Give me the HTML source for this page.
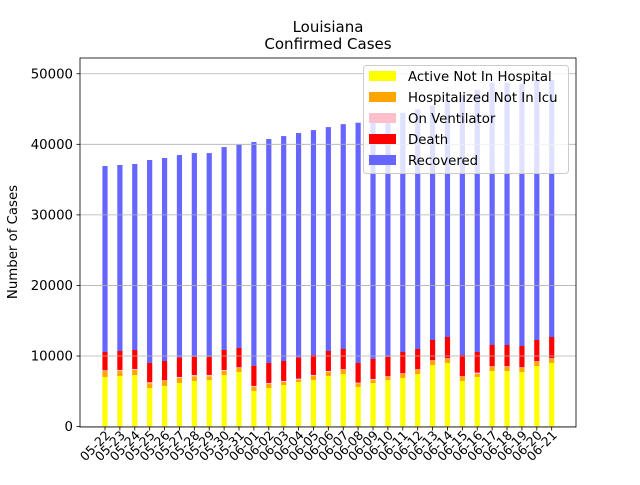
<!DOCTYPE html>
<html><head><meta charset="utf-8"><style>
body{margin:0;background:#fff;width:640px;height:480px;overflow:hidden;font-family:"Liberation Sans","DejaVu Sans",sans-serif}
svg text{font-family:"DejaVu Sans","Liberation Sans",sans-serif;fill:#000}
</style></head><body>
<svg id="chart" width="640" height="480"></svg>
<script>
const categories=["05-22","05-23","05-24","05-25","05-26","05-27","05-28","05-29","05-30","05-31","06-01","06-02","06-03","06-04","06-05","06-06","06-07","06-08","06-09","06-10","06-11","06-12","06-13","06-14","06-15","06-16","06-17","06-18","06-19","06-20","06-21"];
const activeNotInHospital=[7033,7174,7316,5475,5758,6183,6466,6608,7316,7741,5050,5475,5900,6325,6608,7174,7458,5617,6183,6608,6891,7458,8732,9015,6466,7033,7882,7882,7741,8590,9015];
const hospitalizedNotInIcu=[850,708,708,661,708,708,661,519,566,566,566,566,425,283,566,566,566,519,425,425,566,566,566,566,566,425,566,566,566,566,566];
const onVentilator=[94,142,142,142,94,142,189,189,142,94,142,142,142,189,142,142,94,94,142,94,94,94,94,94,94,189,94,94,94,94,94];
const death=[2596,2690,2690,2738,2738,2785,2596,2596,2832,2738,2879,2832,2832,3021,2832,2832,2879,2785,2832,2785,3021,2879,2879,3021,3021,2926,3021,3021,3021,3021,3021];
const recovered=[26357,26356,26354,28765,28762,28662,28848,28848,28754,28801,31692,31735,31872,31782,31872,31726,31862,34045,33618,33988,33897,33962,33228,33603,36852,37127,37166,37166,37128,36838,36413];
const yTicks=[0,10000,20000,30000,40000,50000];
const seriesNames=["Active Not In Hospital","Hospitalized Not In Icu","On Ventilator","Death","Recovered"];
const seriesColors=["#ffff00","#ffa500","#ffc0cb","#ff0000","#6666ff"];

const svg=document.getElementById('chart');
const NS='http://www.w3.org/2000/svg';
const L=80,R=576,T=58,B=427;
function yScale(v){return 426.6-v*70.57/10000;}
function xScale(i){return 105+i*14.89;}
function mk(tag,attrs,parent){const e=document.createElementNS(NS,tag);for(const k in attrs)e.setAttribute(k,attrs[k]);(parent||svg).appendChild(e);return e;}

const series=[activeNotInHospital,hospitalizedNotInIcu,onVentilator,death,recovered];
const bw=5.2;
categories.forEach((c,i)=>{
  let cum=0;
  series.forEach((s,k)=>{
    const v=s[i];
    const r=mk('rect',{x:xScale(i)-bw/2,y:yScale(cum+v),width:bw,height:yScale(cum)-yScale(cum+v),fill:seriesColors[k]});
    
    
    cum+=v;
  });
});
yTicks.forEach(t=>{
  const y=yScale(t);
  const g=mk('line',{x1:L,x2:R,y1:y,y2:y,stroke:'#b0b0b0','stroke-width':0.8});
  
  
  mk('line',{x1:L-3.5,x2:L,y1:y,y2:y,stroke:'#000','stroke-width':0.8});
  const tx=mk('text',{x:L-7,y:y+4.5,'text-anchor':'end','font-size':'13.3'});
  tx.textContent=t;
  
  
});
categories.forEach((c,i)=>{
  const x=xScale(i);
  mk('line',{x1:x,x2:x,y1:B,y2:B+3.5,stroke:'#000','stroke-width':0.8});
  const tx=mk('text',{x:0,y:0,'text-anchor':'end','font-size':'12.5',transform:`translate(${x+6},${B+9}) rotate(-45)`});
  tx.textContent=c;
  
  
});
const frame=mk('rect',{x:L,y:T,width:R-L,height:B-T,fill:'none',stroke:'#000','stroke-width':0.8});


const t1=mk('text',{x:328,y:32,'text-anchor':'middle','font-size':'15'});t1.textContent='Louisiana';


const t2=mk('text',{x:328,y:49,'text-anchor':'middle','font-size':'15'});t2.textContent='Confirmed Cases';


const yl=mk('text',{x:0,y:0,'text-anchor':'middle','font-size':'13.3',transform:'translate(17,242) rotate(-90)'});yl.textContent='Number of Cases';


const lg=mk('g',{});


mk('rect',{x:363.5,y:65.5,width:205,height:108,rx:3,fill:'#fff','fill-opacity':0.8,stroke:'#ccc','stroke-width':1},lg);
seriesNames.forEach((n,k)=>{
  const cy=76+k*21;
  const e=mk('g',{},lg);
  
  
  mk('rect',{x:369,y:cy-5,width:27,height:10,fill:seriesColors[k]},e);
  const tx=mk('text',{x:408,y:cy+5,'font-size':'13.3'},e);tx.textContent=n;
});
</script>
</body></html>
